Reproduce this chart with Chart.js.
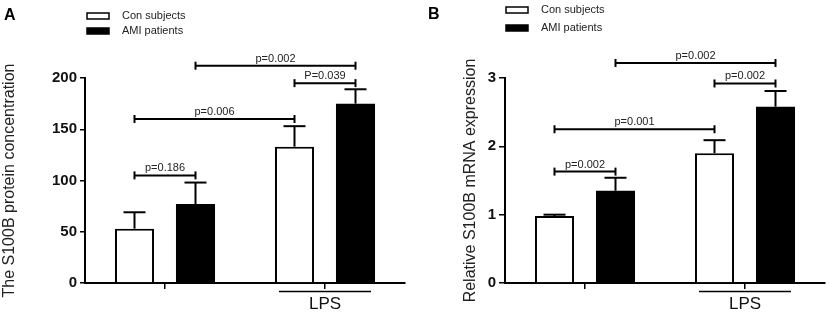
<!DOCTYPE html>
<html>
<head>
<meta charset="utf-8">
<script src="https://cdn.jsdelivr.net/npm/chart.js@4"></script>
<style>
  body { margin: 0; background: #fff; }
  canvas { position: absolute; top: 0; }
</style>
</head>
<body>
<canvas id="chartA" width="420" height="321" style="left:0"></canvas>
<canvas id="chartB" width="409" height="321" style="left:420px"></canvas>
<script>
const groups = ['', 'LPS'];
const seriesLabels = ['Con subjects', 'AMI patients'];

// A - S100B protein
const proteinCon = [53, 133];
const proteinAmi = [77, 175];
const proteinConErr = [16, 20];
const proteinAmiErr = [21, 14];
const proteinTicks = [0, 50, 100, 150, 200];
const proteinP = ['p=0.186', 'p=0.006', 'P=0.039', 'p=0.002'];
const proteinPLevel = [105, 160, 195, 212];

// B - S100B mRNA
const mrnaCon = [0.98, 1.90];
const mrnaAmi = [1.35, 2.58];
const mrnaConErr = [0.02, 0.19];
const mrnaAmiErr = [0.19, 0.23];
const mrnaTicks = [0, 1, 2, 3];
const mrnaP = ['p=0.002', 'p=0.001', 'p=0.002', 'p=0.002'];
const mrnaPLevel = [1.63, 2.25, 2.92, 3.22];

// bars joined by each bracket: [dataset, group]
const pairs = [[[0, 0], [1, 0]], [[0, 0], [0, 1]], [[0, 1], [1, 1]], [[1, 0], [1, 1]]];

const FONT = '"Liberation Sans", Arial, sans-serif';
Chart.defaults.font.family = FONT;

const extras = {
  id: 'extras',
  afterDatasetsDraw(chart, args, o) {
    const ctx = chart.ctx;
    const x = chart.scales.x, y = chart.scales.y;
    const bar = (d, i) => chart.getDatasetMeta(d).data[i];
    const seg = (x1, y1, x2, y2) => {
      ctx.beginPath(); ctx.moveTo(x1, y1); ctx.lineTo(x2, y2); ctx.stroke();
    };
    ctx.save();
    ctx.strokeStyle = '#000';
    ctx.lineWidth = 2;

    // error bars, upper half only
    o.errors.forEach((errs, d) => errs.forEach((e, i) => {
      const b = bar(d, i);
      const top = y.getPixelForValue(chart.data.datasets[d].data[i] + e);
      seg(b.x, b.y, b.x, top);
      seg(b.x - 11, top, b.x + 11, top);
    }));

    // p value brackets
    ctx.font = '11px ' + FONT;
    ctx.fillStyle = '#222';
    ctx.textAlign = 'center';
    ctx.textBaseline = 'alphabetic';
    pairs.forEach((p, k) => {
      const x1 = bar(p[0][0], p[0][1]).x, x2 = bar(p[1][0], p[1][1]).x;
      const yy = y.getPixelForValue(o.levels[k]);
      seg(x1, yy, x2, yy);
      seg(x1, yy - 4, x1, yy + 4);
      seg(x2, yy - 4, x2, yy + 4);
      ctx.fillText(o.labels[k], (x1 + x2) / 2, yy - 4);
    });

    // line over the LPS label
    const cx = x.getPixelForValue(1);
    ctx.lineWidth = 1.5;
    seg(cx - 46, chart.chartArea.bottom + 8.5, cx + 46, chart.chartArea.bottom + 8.5);

    // panel letter
    ctx.textAlign = 'left';
    ctx.textBaseline = 'middle';
    ctx.fillStyle = '#000';
    ctx.font = 'bold 16px ' + FONT;
    ctx.fillText(o.letter, o.letterX, o.letterY);

    // legend
    ctx.font = '11px ' + FONT;
    ctx.lineWidth = 1.5;
    chart.data.datasets.forEach((ds, d) => {
      const ly = o.legendY[d];
      ctx.fillStyle = ds.backgroundColor;
      ctx.fillRect(o.legendX, ly - 3, 22, 6);
      ctx.strokeRect(o.legendX, ly - 3, 22, 6);
      ctx.fillStyle = '#222';
      ctx.fillText(ds.label, o.legendX + 35, ly);
    });
    ctx.restore();
  }
};

function makeChart(id, con, ami, conErr, amiErr, ticks, pLabels, pLevels, yTitle, p) {
  return new Chart(document.getElementById(id), {
    type: 'bar',
    data: {
      labels: groups,
      datasets: [
        { label: seriesLabels[0], data: con, backgroundColor: '#fff', borderColor: '#000', borderWidth: 2 },
        { label: seriesLabels[1], data: ami, backgroundColor: '#000', borderColor: '#000', borderWidth: 0 }
      ]
    },
    options: {
      responsive: false,
      animation: false,
      events: [],
      datasets: { bar: { barPercentage: 0.64, categoryPercentage: 0.7625 } },
      layout: { padding: { top: 78, right: p.right, bottom: 0, left: 0 } },
      plugins: {
        legend: { display: false },
        tooltip: { enabled: false },
        extras: {
          errors: [conErr, amiErr], levels: pLevels, labels: pLabels,
          letter: p.letter, letterX: p.letterX, letterY: p.letterY,
          legendX: p.legendX, legendY: p.legendY
        }
      },
      scales: {
        x: {
          afterFit: s => { s.height = 38; },
          grid: { offset: false, drawOnChartArea: false, color: '#000', lineWidth: 1.5, tickLength: 6 },
          border: { color: '#000', width: 2 },
          ticks: { font: { size: 17 }, color: '#111', padding: 5 }
        },
        y: {
          min: 0,
          max: ticks[ticks.length - 1],
          afterBuildTicks: s => { s.ticks = ticks.map(v => ({ value: v })); },
          afterFit: s => { s.width = 85; },
          grid: { drawOnChartArea: false, color: '#000', lineWidth: 1.5, tickLength: p.tickLen },
          border: { color: '#000', width: 2 },
          ticks: { font: { size: 15, weight: 'bold' }, color: '#111', padding: 3 },
          title: { display: true, text: yTitle, font: { size: 16 }, color: '#222', padding: { top: p.titlePad, bottom: 0 } }
        }
      }
    },
    plugins: [extras]
  });
}

makeChart('chartA', proteinCon, proteinAmi, proteinConErr, proteinAmiErr, proteinTicks,
  proteinP, proteinPLevel, 'The S100B protein concentration',
  { right: 15, tickLen: 5, titlePad: 0, letter: 'A', letterX: 4, letterY: 16, legendX: 87, legendY: [16, 31] });

makeChart('chartB', mrnaCon, mrnaAmi, mrnaConErr, mrnaAmiErr, mrnaTicks,
  mrnaP, mrnaPLevel, 'Relative S100B mRNA expression',
  { right: 4, tickLen: 6, titlePad: 41, letter: 'B', letterX: 8, letterY: 15, legendX: 86, legendY: [10, 28] });
</script>
</body>
</html>
